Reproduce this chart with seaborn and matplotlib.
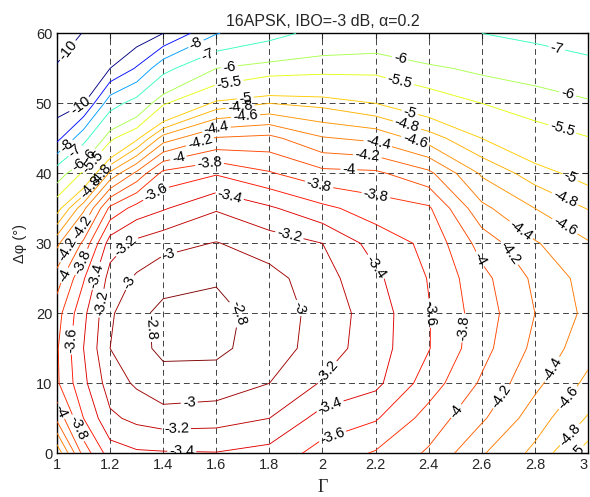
import numpy as np
import pandas as pd
import seaborn as sns
import matplotlib.pyplot as plt
from matplotlib.colors import Normalize
from matplotlib.ticker import FormatStrFormatter

# grid
gamma = [1.0, 1.1, 1.2, 1.3, 1.4, 1.6, 1.8, 2.0, 2.2, 2.4, 2.6, 2.8, 3.0]
dphi = [0, 5, 10, 15, 20, 25, 30, 35, 40, 45, 50, 55, 60]

# values (dB) along each delta-phi row, one entry per gamma
row_00 = [-4.75, -3.92, -3.50, -3.43, -3.42, -3.41, -3.47, -3.68, -3.82, -4.03, -4.38, -4.65, -5.10]
row_05 = [-4.15, -3.60, -3.24, -3.15, -3.10, -3.12, -3.20, -3.48, -3.58, -3.88, -4.17, -4.50, -4.82]
row_10 = [-3.83, -3.45, -3.10, -2.97, -2.85, -2.88, -3.00, -3.22, -3.35, -3.70, -4.03, -4.35, -4.65]
row_15 = [-3.82, -3.40, -3.00, -2.84, -2.77, -2.76, -2.89, -3.10, -3.31, -3.59, -3.93, -4.25, -4.52]
row_20 = [-3.88, -3.45, -3.03, -2.85, -2.75, -2.74, -2.88, -3.08, -3.30, -3.59, -3.90, -4.20, -4.45]
row_25 = [-4.10, -3.62, -3.12, -2.97, -2.87, -2.82, -2.93, -3.12, -3.36, -3.61, -3.94, -4.24, -4.48]
row_30 = [-4.45, -3.95, -3.30, -3.15, -3.07, -2.99, -3.10, -3.20, -3.48, -3.65, -4.08, -4.38, -4.58]
row_35 = [-5.10, -4.45, -3.75, -3.52, -3.42, -3.22, -3.37, -3.55, -3.70, -3.77, -4.35, -4.60, -4.81]
row_40 = [-6.35, -5.40, -4.55, -4.15, -3.74, -3.62, -3.78, -3.94, -3.96, -4.15, -4.63, -4.90, -5.10]
row_45 = [-9.30, -7.30, -5.60, -5.05, -4.50, -4.18, -4.14, -4.38, -4.45, -4.70, -5.00, -5.25, -5.48]
row_50 = [-10.50, -10.05, -7.40, -6.60, -5.55, -4.93, -4.80, -4.86, -5.00, -5.20, -5.50, -5.75, -5.90]
row_55 = [-10.10, -10.40, -10.00, -8.90, -7.30, -6.00, -5.70, -5.63, -5.62, -5.90, -6.12, -6.25, -6.70]
row_60 = [-9.40, -10.05, -10.50, -10.70, -10.00, -8.05, -7.35, -6.65, -6.50, -6.75, -7.00, -7.30, -7.50]

levels = [-10, -9, -8, -7, -6, -5.5, -5, -4.8, -4.6, -4.4, -4.2, -4, -3.8,
          -3.6, -3.4, -3.2, -3, -2.8]

rows = [row_00, row_05, row_10, row_15, row_20, row_25, row_30,
        row_35, row_40, row_45, row_50, row_55, row_60]
data = pd.DataFrame(rows, index=dphi, columns=gamma)

# where the contour labels sit (layout only, snapped onto the nearest line)
label_spots = [
    (1.04, 57.6), (1.08, 50.3), (1.03, 44.2), (1.06, 43.6), (1.11, 43.0),
    (1.135, 41.6), (1.09, 40.7), (1.16, 40.0), (1.13, 37.9), (1.09, 32.4),
    (1.045, 29.0), (1.09, 27.4), (1.04, 25.2), (1.135, 25.5), (1.16, 21.5),
    (1.28, 24.3), (1.27, 29.3), (1.42, 28.6), (1.05, 16.2), (1.36, 18.0),
    (1.7, 20.5), (1.5, 6.2), (1.45, 3.0), (1.47, 0.4), (1.026, 6.2),
    (1.09, 3.8),
    (1.52, 58.8), (1.57, 56.9), (1.65, 55.2), (1.65, 52.5), (1.71, 50.5),
    (1.69, 49.5), (1.71, 48.2), (1.6, 46.4), (1.54, 44.3), (1.46, 41.7),
    (1.575, 41.4), (1.375, 37.0), (1.65, 36.7), (1.88, 31.9),
    (2.29, 56.0), (2.29, 52.9), (2.33, 48.8), (2.32, 47.1), (2.35, 44.8),
    (2.21, 44.5), (2.17, 42.9), (2.1, 41.5), (2.2, 36.7), (1.98, 37.4),
    (2.88, 57.4), (2.92, 51.0), (2.905, 46.5), (2.94, 40.0), (2.92, 36.9),
    (2.92, 32.9), (2.77, 33.0), (2.73, 29.3), (2.6, 27.9),
    (1.93, 21.0), (2.03, 11.2), (2.03, 6.5), (2.03, 3.3), (2.21, 26.9),
    (2.4, 20.0), (2.535, 17.9), (2.48, 6.7), (2.655, 8.6), (2.87, 11.9),
    (2.92, 8.1), (2.91, 3.4), (2.94, 1.0),
]

sns.set_style("white")
plt.rcParams['font.family'] = ['Liberation Sans', 'DejaVu Sans']

fig = plt.figure(figsize=(5.9, 4.97), dpi=100)
ax = fig.add_axes([0.0966, 0.0879, 0.9, 0.845])

cmap = plt.colormaps['jet']
cs = ax.contour(data.columns.values, data.index.values, data.values,
                levels=levels, cmap=cmap, norm=Normalize(-10, -2.8),
                linewidths=0.65, zorder=3)

# customize the plot
ax.set_xlim(1, 3)
ax.set_ylim(0, 60)
ax.set_xticks(np.arange(1, 3.01, 0.2))
ax.set_yticks(np.arange(0, 61, 10))
ax.xaxis.set_major_formatter(FormatStrFormatter('%g'))
ax.grid(True, color='#222222', linestyle=(0, (6, 4)), linewidth=0.7, alpha=0.85)
ax.tick_params(direction='in', top=True, right=True, length=4, labelsize=10.5)
for s in ax.spines.values():
    s.set_color('k')
    s.set_linewidth(1.0)
# keep the last x tick label inside the figure
fig.canvas.draw()
ax.get_xticklabels()[-1].set_horizontalalignment('right')

ax.clabel(cs, fmt='%g', fontsize=10.5, colors='k', inline=True,
          inline_spacing=2, manual=label_spots)

ax.set_title('16APSK, IBO=-3 dB, α=0.2', fontsize=11.5, pad=5)
ax.set_xlabel('Γ', fontsize=13, family=['Liberation Serif'], labelpad=5)
ax.set_ylabel('Δφ (°)', fontsize=10.5, labelpad=6)

fig.savefig("out.png", dpi=100)
